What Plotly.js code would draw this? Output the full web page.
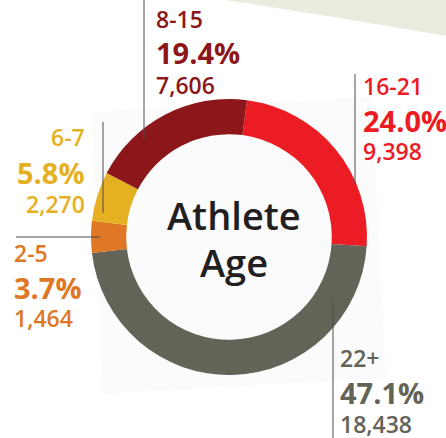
<!DOCTYPE html>
<html>
<head>
<meta charset="utf-8">
<script src="https://cdn.plot.ly/plotly-3.0.1.min.js"></script>
<style>html,body{margin:0;padding:0;background:#fff;}#chart{width:446px;height:438px;}</style>
</head>
<body>
<div id="chart"></div>
<script>
// Data
const ageGroups = ['16-21', '22+', '2-5', '6-7', '8-15'];
const athleteCounts = [9398, 18438, 1464, 2270, 7606];
const sliceColors = ['#ec1c24', '#636358', '#e07724', '#e5b022', '#8b171a'];
const centerTitle = ['Athlete', 'Age'];

const total = athleteCounts.reduce((a, b) => a + b, 0);
const pctText = athleteCounts.map(v => (v / total * 100).toFixed(1) + '%');
const countText = athleteCounts.map(v => v.toLocaleString('en-US'));

// label layout (pixel coords): [x, yLabel, yPct, yCount, anchor]
const labelPos = {
  '8-15':  [155, 18.5, 52.5, 85, 'left'],
  '16-21': [362, 86, 120.5, 150.5, 'left'],
  '6-7':   [86, 136.5, 172.5, 203.5, 'right'],
  '2-5':   [13, 253, 287.5, 318, 'left'],
  '22+':   [339, 358, 392.5, 423.5, 'left']
};
const leaders = [
  [144, 0, 144, 139],
  [355, 74, 355, 183],
  [103, 122, 103, 213],
  [16, 237, 100, 237],
  [333, 302, 333, 438]
];

const FONT = 'Open Sans, Noto Sans, sans-serif';
const W = 446, H = 438;

const annotations = [];
ageGroups.forEach((g, i) => {
  const p = labelPos[g];
  const c = sliceColors[i];
  const common = {xref: 'x', yref: 'y', x: p[0], xanchor: p[4], yanchor: 'middle', showarrow: false, borderpad: 0};
  annotations.push(Object.assign({}, common, {y: p[1], text: g, font: {family: FONT, size: 23, color: c, weight: 600}}));
  annotations.push(Object.assign({}, common, {y: p[2], text: pctText[i], font: {family: FONT, size: 29, color: c, weight: 700}}));
  annotations.push(Object.assign({}, common, {y: p[3], text: countText[i], font: {family: FONT, size: 23, color: c, weight: 600}}));
});
annotations.push({xref: 'x', yref: 'y', x: 234, y: 214.5, text: centerTitle[0], showarrow: false, xanchor: 'center', yanchor: 'middle',
  font: {family: FONT, size: 38, color: '#231f20', weight: 600}});
annotations.push({xref: 'x', yref: 'y', x: 234, y: 262, text: centerTitle[1], showarrow: false, xanchor: 'center', yanchor: 'middle',
  font: {family: FONT, size: 38, color: '#231f20', weight: 600}});

const shapes = [
  {type: 'path', xref: 'x', yref: 'y', layer: 'below', path: 'M 225 0 Q 330 16 446 36 L 446 0 Z', fillcolor: '#ecebe0', line: {width: 0}},
  {type: 'path', xref: 'x', yref: 'y', layer: 'below', path: 'M 92 112 L 372 97 L 386 378 L 102 394 Z', fillcolor: '#fbfbfb', line: {width: 0}}
];
leaders.forEach(l => shapes.push({type: 'line', xref: 'x', yref: 'y', x0: l[0], y0: l[1], x1: l[2], y1: l[3], line: {color: '#4d4d4d', width: 1}}));

const cx = 229, cy = 237, R = 138;
const trace = {
  type: 'pie',
  labels: ageGroups,
  values: athleteCounts,
  sort: false,
  direction: 'clockwise',
  rotation: 7.5,
  hole: 0.745,
  marker: {colors: sliceColors, line: {width: 0}},
  textinfo: 'none',
  hoverinfo: 'none',
  showlegend: false,
  domain: {x: [(cx - R) / W, (cx + R) / W], y: [1 - (cy + R) / H, 1 - (cy - R) / H]}
};

const layout = {
  width: W, height: H,
  margin: {l: 0, r: 0, t: 0, b: 0},
  paper_bgcolor: '#ffffff',
  plot_bgcolor: 'rgba(0,0,0,0)',
  showlegend: false,
  xaxis: {range: [0, W], visible: false, fixedrange: true},
  yaxis: {range: [H, 0], visible: false, fixedrange: true},
  annotations: annotations,
  shapes: shapes
};

Plotly.newPlot('chart', [trace], layout, {displayModeBar: false, staticPlot: true});
</script>
</body>
</html>
